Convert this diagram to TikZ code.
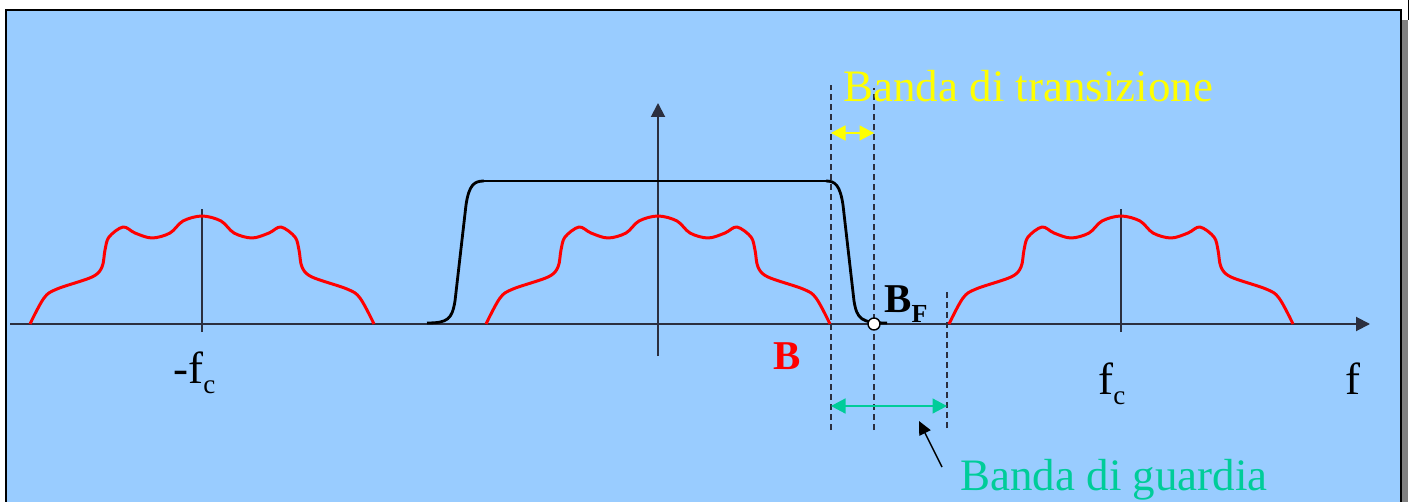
\documentclass[tikz,border=0pt]{standalone}
\usepackage{fontspec}
\setmainfont{Liberation Serif}
\usepackage{xcolor}
\definecolor{PanelFill}{HTML}{99CCFF}
\definecolor{ShadowGray}{HTML}{808080}
\definecolor{AxisLine}{HTML}{2B2F3F}
\definecolor{GuardTeal}{HTML}{00CC99}
\definecolor{TransYellow}{HTML}{FFFF00}
\usepackage{tikz}
\usetikzlibrary{arrows.meta}

\newcommand{\lowsub}[2][15.4]{\raisebox{-0.2cm}{\fontsize{#1}{#1}\selectfont #2}}

\begin{document}
\begin{tikzpicture}[
    x=0.02cm,
    y=0.02cm,
    axis/.style={
        draw=AxisLine,
        line width=1.1pt,
        -{Triangle[length=0.28cm,width=0.28cm]}
    },
    tick/.style={draw=AxisLine,line width=0.75pt},
    guide/.style={
        draw=AxisLine,
        line width=0.9pt,
        dash pattern=on 3.4pt off 2.3pt
    },
    spec/.style={draw=red,line width=1.7pt,line join=round},
    filt/.style={draw=black,line width=1.6pt},
    lab/.style={
        inner sep=0pt,
        font=\fontsize{25.6}{30}\selectfont
    },
    blab/.style={
        inner sep=0pt,
        font=\fontsize{23.3}{28}\selectfont\bfseries
    },
    dimarr/.style={
        line width=0.9pt,
        {Triangle[length=0.29cm,width=0.3cm]}-{Triangle[length=0.29cm,width=0.3cm]}
    },
    pointer/.style={-{Triangle[length=0.27cm,width=0.25cm]},line width=0.8pt}
]

\useasboundingbox (0,0) rectangle (1412,501);
\clip (0,0) rectangle (1412,501);

% ---------------------------------------------------------
% Sfondo del pannello
% ---------------------------------------------------------

\fill[white] (0,0) rectangle (1412,501);
\fill[ShadowGray] (1402,-10) rectangle (1408,481);
\draw[fill=PanelFill,line width=0.85pt] (6,-10) rectangle (1401,491);
\draw[line width=0.6pt] (1408.5,481) -- (1408.5,501);

% ---------------------------------------------------------
% Linee guida tratteggiate
% ---------------------------------------------------------

\draw[guide] (831,71) -- (831,416);
\draw[guide] (874,71) -- (874,413);
\draw[guide] (947,73) -- (947,209);

% ---------------------------------------------------------
% Assi
% ---------------------------------------------------------

\coordinate (xfrom) at (10,177);
\coordinate (xto)   at (1370,177);
\coordinate (yfrom) at (658,145);
\coordinate (yto)   at (658,398);

\draw[axis] (xfrom) -- (xto);
\draw[axis] (yfrom) -- (yto);

\draw[tick] (202,169) -- (202,292);
\draw[tick] (1121,169) -- (1121,292);

% ---------------------------------------------------------
% Spettri replicati
% ---------------------------------------------------------

\foreach \c in {202,658,1121}
  \draw[spec,shift={(\c,177)}] plot[smooth,tension=0.55] coordinates {
    (-172,0) (-158,26) (-145,35) (-110,47) (-100,57) (-97,74) (-93,87)
    (-79,97) (-67,91) (-50,86) (-32,91) (-19,103) (0,108)
    (19,103) (32,91) (50,86) (67,91) (79,97) (93,87) (97,74)
    (100,57) (110,47) (145,35) (158,26) (172,0)};

% ---------------------------------------------------------
% Filtro passa-basso
% ---------------------------------------------------------

\draw[filt]
(427,178) .. controls (448,178) and (452,182) .. (455,200)
-- (466,296) .. controls (469,316) and (474,320) .. (484,320);

\draw[line width=0.8pt] (484,320) -- (826,320);

\draw[filt]
(826,320) .. controls (835,320) and (840,316) .. (843,296)
-- (854,200) .. controls (857,182) and (861,178) .. (887,178);

\node[circle,draw=black,fill=white,line width=0.8pt,
      minimum size=0.24cm,inner sep=0pt] (bf) at (874,177) {};

% ---------------------------------------------------------
% Bande
% ---------------------------------------------------------

\coordinate (ta) at (831,368);
\coordinate (tb) at (874,368);
\coordinate (ga) at (831,95);
\coordinate (gb) at (947,95);

\draw[dimarr,TransYellow] (ta) -- (tb);
\draw[dimarr,GuardTeal] (ga) -- (gb);

\coordinate (ptail) at (942,34);
\coordinate (ptip)  at (919,80);
\draw[pointer] (ptail) -- (ptip);

% ---------------------------------------------------------
% Etichette
% ---------------------------------------------------------

\node[lab,text=TransYellow,anchor=base west] (trans) at (843,399)
{Banda di transizione};

\node[lab,text=GuardTeal,anchor=base west] (guard) at (960,11)
{Banda di guardia};

\node[lab,anchor=base west] (fcneg) at (173,118) {-f\lowsub{c}};
\node[lab,anchor=base west] (fcpos) at (1098,107) {f\lowsub{c}};
\node[lab,anchor=base] (faxis) at (1353,107) {f};

\node[blab,text=red,anchor=base] (bw) at (787,132) {B};
\node[blab,anchor=base west] (bflab) at (884,189) {B\lowsub[14.8]{F}};

\end{tikzpicture}
\end{document}
